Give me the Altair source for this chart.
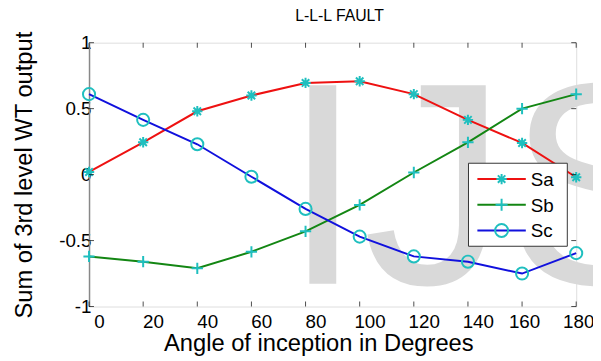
import altair as alt
import pandas as pd

# ---- data ----
angles = [0, 20, 40, 60, 80, 100, 120, 140, 160, 180]
sa = [0.02, 0.245, 0.48, 0.60, 0.695, 0.708, 0.61, 0.415, 0.24, -0.02]
sb = [-0.62, -0.66, -0.71, -0.585, -0.43, -0.23, 0.016, 0.245, 0.50, 0.61]
sc = [0.61, 0.415, 0.23, -0.016, -0.26, -0.47, -0.62, -0.66, -0.75, -0.595]
series_names = ["Sa", "Sb", "Sc"]
x_ticks = [0, 20, 40, 60, 80, 100, 120, 140, 160, 180]
y_ticks = [-1, -0.5, 0, 0.5, 1]
title_text = "L-L-L FAULT"
x_title = "Angle of inception in Degrees"
y_title = "Sum of 3rd level WT output"
watermark = "IJS"

# ---- styles ----
W, H = 493, 267
FONT = "Liberation Sans"
line_colors = ["#ee1111", "#138613", "#1010dd"]
MARK = "#1fbfbf"
STAR = "M-1,0L1,0M0,-1L0,1M-0.72,-0.72L0.72,0.72M-0.72,0.72L0.72,-0.72"
PLUS = "M-1,0L1,0M0,-1L0,1"
shapes = [STAR, PLUS, "circle"]
sizes = [110, 150, 170]

df = pd.DataFrame({
    "angle": angles * 3,
    "value": sa + sb + sc,
    "series": sum([[n] * len(angles) for n in series_names], []),
})

xs = alt.Scale(domain=[0, 180], nice=False, zero=False)
ys = alt.Scale(domain=[-1, 1], nice=False, zero=False)

x_axis = alt.Axis(values=x_ticks, ticks=False, domain=False, grid=False,
                  labelFontSize=19, labelFont=FONT, labelColor="black",
                  labelFlush=False, labelPadding=6,
                  labelOffset=alt.condition("datum.value > 150", alt.value(2), alt.value(10)),
                  titleFontSize=24, titleFont=FONT, titleFontWeight="normal",
                  titleColor="black", titleX=232, titleY=45,
                  titleAlign="center", titleBaseline="alphabetic")
y_axis = alt.Axis(values=y_ticks, ticks=False, grid=False,
                  domain=True, domainColor="#888888", domainWidth=1.5,
                  labelFontSize=19, labelFont=FONT, labelColor="black",
                  labelPadding=-2, labelExpr="datum.value + ''",
                  titleFontSize=24, titleFont=FONT, titleFontWeight="normal",
                  titleColor="black", titleAngle=270, titleX=-58, titleY=133.5,
                  titleAlign="center", titleBaseline="alphabetic")


def X(field):
    return alt.X(field, scale=xs, title=x_title, axis=x_axis)


def Y(field):
    return alt.Y(field, scale=ys, title=y_title, axis=y_axis)


wm = alt.Chart(pd.DataFrame({"w": [watermark]})).mark_text(
    font=FONT, fontSize=292, color="#d9d9d9", align="left", baseline="alphabetic"
).encode(x=alt.value(196), y=alt.value(244), text="w:N")

lines = alt.Chart(df).mark_line(strokeWidth=2).encode(
    x=X("angle:Q"), y=Y("value:Q"),
    color=alt.Color("series:N", scale=alt.Scale(domain=series_names, range=line_colors), legend=None),
)

points = alt.Chart(df).mark_point(filled=False, color=MARK, strokeWidth=2, opacity=1).encode(
    x=X("angle:Q"), y=Y("value:Q"),
    shape=alt.Shape("series:N", scale=alt.Scale(domain=series_names, range=shapes), legend=None),
    size=alt.Size("series:N", scale=alt.Scale(domain=series_names, range=sizes), legend=None),
)

tick_len = 5
xt = pd.DataFrame({"angle": x_ticks})
yt = pd.DataFrame({"value": y_ticks})
bot_ticks = alt.Chart(xt).mark_tick(orient="vertical", size=tick_len, thickness=1, color="black").encode(
    x=X("angle:Q"), y=alt.value(H - tick_len / 2))
top_ticks = alt.Chart(xt).mark_tick(orient="vertical", size=tick_len, thickness=1, color="black").encode(
    x=X("angle:Q"), y=alt.value(tick_len / 2))
left_ticks = alt.Chart(yt).mark_tick(orient="horizontal", size=tick_len, thickness=1, color="black").encode(
    y=Y("value:Q"), x=alt.value(tick_len / 2))
right_ticks = alt.Chart(yt).mark_tick(orient="horizontal", size=tick_len, thickness=1, color="black").encode(
    y=Y("value:Q"), x=alt.value(W - tick_len / 2))

# ---- legend (MATLAB style, drawn inside the axes) ----
box = alt.Chart(pd.DataFrame({"b": [1]})).mark_rect(
    fill="white", stroke="#333333", strokeWidth=1
).encode(x=alt.value(384), x2=alt.value(484), y=alt.value(122), y2=alt.value(206))

legend_layers = [box]
for i, name in enumerate(series_names):
    ld = pd.DataFrame({"series": [name]})
    yy = 138 + 26 * i
    legend_layers.append(alt.Chart(ld).mark_rule(color=line_colors[i], strokeWidth=2).encode(
        x=alt.value(393), x2=alt.value(442), y=alt.value(yy)))
    legend_layers.append(alt.Chart(ld).mark_point(
        shape=shapes[i], filled=False, color=MARK, strokeWidth=2, size=sizes[i], opacity=1
    ).encode(x=alt.value(417.5), y=alt.value(yy)))
    legend_layers.append(alt.Chart(ld).mark_text(
        align="left", baseline="middle", font=FONT, fontSize=19, color="black"
    ).encode(x=alt.value(447), y=alt.value(yy + 1), text="series:N"))

chart = alt.layer(
    wm, lines, points, bot_ticks, top_ticks, left_ticks, right_ticks, *legend_layers
).properties(
    width=W, height=H,
    title=alt.TitleParams(title_text, font=FONT, fontSize=16, fontWeight="normal",
                          color="black", anchor="middle", dx=7, dy=6, offset=0,
                          baseline="alphabetic", frame="group"),
    autosize=alt.AutoSizeParams(type="none"),
    padding={"left": 82, "top": 33, "right": 17, "bottom": 52},
).configure_view(stroke="black", strokeWidth=1).configure(background="white")

chart.save("out.html", embed_options={"renderer": "svg", "actions": False})
